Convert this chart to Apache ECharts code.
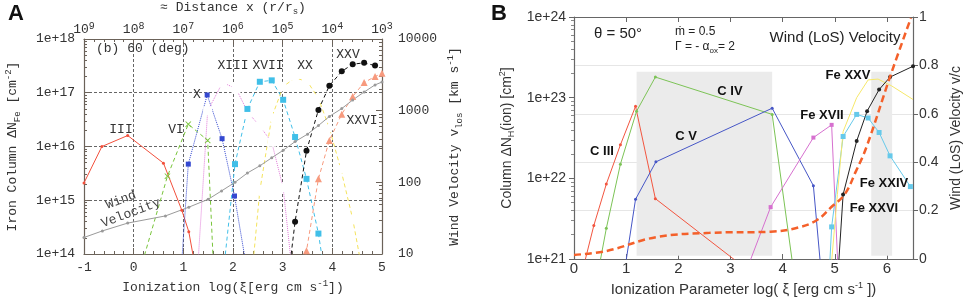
<!DOCTYPE html>
<html>
<head>
<meta charset="utf-8">
<script src="https://cdn.jsdelivr.net/npm/echarts@6/dist/echarts.min.js"></script>
<style>
  html, body { margin: 0; padding: 0; background: #fff; }
  #chart { width: 969px; height: 298px; }
</style>
</head>
<body>
<div id="chart"></div>
<script>
// ---- panel A : iron ion columns vs log(xi), 60 deg ----
const aXiIII = [-1, -0.64, -0.12, 0.6, 0.97, 1.11, 1.25]
const aColIII = [2.1e15, 1.0e16, 1.6e16, 4.9e15, 6.5e14, 2.6e14, 5e13]
const aXiVI = [0.1, 0.68, 1.10, 1.49, 1.62]
const aColVI = [4e13, 2.8e15, 2.6e16, 1.3e16, 3.2e13]
const aXiX = [0.95, 1.10, 1.48, 1.78, 2.03, 2.3]
const aColX = [4e13, 4.7e15, 9.1e16, 1.4e16, 1.2e15, 4e13]
const aXiXIII = [1.28, 1.49, 1.79, 2.06, 2.30, 2.54, 2.78, 3.01, 3.2]
const aColXIII = [4e13, 4.6e16, 1.55e17, 1.2e17, 4.3e16, 2.4e16, 1.2e16, 1.7e15, 4e13]
const aXiXVII = [1.8, 2.04, 2.29, 2.54, 2.78, 3.01, 3.25, 3.48, 3.72, 3.85]
const aColXVII = [4e13, 4.7e15, 5e16, 1.6e17, 1.7e17, 7.4e16, 1.5e16, 2.5e15, 2.4e14, 4e13]
const aXiXX = [2.38, 2.54, 2.78, 3.01, 3.25, 3.50, 3.72, 3.94, 4.17, 4.41, 4.6]
const aColXX = [4e13, 1.5e15, 3.5e16, 1.3e17, 1.9e17, 1.6e17, 7.9e16, 2.2e16, 3.8e15, 4.5e14, 5e13]
const aXiXXV = [3.12, 3.25, 3.48, 3.72, 3.94, 4.19, 4.41, 4.64, 4.86]
const aColXXV = [4e13, 4e14, 8.3e15, 4.8e16, 1.35e17, 2.5e17, 3.4e17, 3.6e17, 3.2e17]
const aXiXXVI = [3.42, 3.48, 3.72, 3.94, 4.19, 4.41, 4.64, 4.86, 5.0]
const aColXXVI = [4e13, 1.15e14, 2.5e15, 1.3e16, 4e16, 8.5e16, 1.55e17, 2e17, 2.3e17]
const aXiWind = [-1, -0.63, -0.12, 0.64, 1.11, 1.50, 1.77, 2.04, 2.29, 2.54, 2.78, 3.01, 3.25, 3.50, 3.72, 3.94, 4.19, 4.41, 4.64, 4.86, 5.0]
const aVelWind = [17, 21, 27, 34, 45, 58, 76, 100, 135, 170, 220, 280, 370, 470, 620, 830, 1070, 1410, 1820, 2290, 2510]
const aTopExp = [9, 8, 7, 6, 5, 4, 3] // distance labels 10^n at xi = -1..5

// ---- panel B : carbon + iron columns, theta = 50 ----
const bXiCIII = [0.18, 0.38, 0.62, 0.89, 1.18, 1.56, 3.2]
const bColCIII = [7.9e20, 2.6e21, 8.5e21, 2.6e22, 7.8e22, 5.6e21, 8.5e20]
const bXiCIV = [0.48, 0.62, 0.89, 1.20, 1.56, 3.80, 4.2]
const bColCIV = [7.9e20, 2.4e21, 1.5e22, 6.8e22, 1.8e23, 6.2e22, 7.9e20]
const bXiCV = [0.98, 1.18, 1.57, 3.80, 4.59, 4.73]
const bColCV = [7.9e20, 5.5e21, 1.6e22, 7.4e22, 8.1e21, 7.9e20]
const bXiFeXVII = [3.33, 3.77, 4.59, 4.94, 5.06]
const bColFeXVII = [7.9e20, 4.4e21, 3.2e22, 4.6e22, 7.9e20]
const bXiFeXXIV = [4.90, 4.94, 5.16, 5.42, 5.64, 5.85, 6.06, 6.45]
const bColFeXXIV = [7.9e20, 2.5e21, 3.3e22, 6.2e22, 5.6e22, 3.7e22, 1.9e22, 7.9e21]
const bXiFeXXV = [4.93, 5.05, 5.16, 5.42, 5.64, 5.83, 6.09, 6.5]
const bColFeXXV = [7.9e20, 6.3e21, 3.8e22, 1.0e23, 1.66e23, 1.7e23, 1.4e23, 9.5e22]
const bXiFeXXVI = [5.07, 5.16, 5.42, 5.62, 5.85, 6.06, 6.5]
const bColFeXXVI = [7.9e20, 6.3e21, 2.9e22, 6.8e22, 1.26e23, 1.8e23, 2.45e23]
const bXiWind = [0, 0.62, 1.57, 2.6, 3.77, 4.3, 4.66, 4.94, 5.19, 5.4, 5.61, 6.06, 6.46]
const bVelWind = [0.017, 0.033, 0.09, 0.108, 0.113, 0.13, 0.161, 0.216, 0.267, 0.36, 0.464, 0.753, 0.996]
const bShadeXi = [[1.2, 3.8], [5.7, 6.1]]
const bShadeCol = [1.1e21, 2.1e23]

const mono = '"Liberation Mono", "Courier New", monospace'
const sans = '"Liberation Sans", Arial, sans-serif'
const frameA = '#6b6259'
const frameB = '#666'

const pts = (xs, ys) => xs.map((x, i) => [x, ys[i]])

const richMono = {
  t: { fontFamily: mono, fontSize: 13, color: '#333', lineHeight: 18 },
  sub: { fontFamily: mono, fontSize: 9, color: '#333', lineHeight: 18, verticalAlign: 'bottom' },
  sup: { fontFamily: mono, fontSize: 9, color: '#333', lineHeight: 18, verticalAlign: 'top' }
}
const richSans = {
  t: { fontFamily: sans, fontSize: 14, color: '#333', lineHeight: 18 },
  sub: { fontFamily: sans, fontSize: 9, color: '#333', lineHeight: 18, verticalAlign: 'bottom' },
  sup: { fontFamily: sans, fontSize: 9, color: '#333', lineHeight: 18, verticalAlign: 'top' }
}

const cross = 'path://M0,1L1,0L5,4L9,0L10,1L6,5L10,9L9,10L5,6L1,10L0,9L4,5Z'

function lineA (name, xs, ys, color, type, symbol, size, yIdx) {
  const empty = symbol.startsWith('empty')
  return {
    name,
    type: 'line',
    xAxisIndex: 0,
    yAxisIndex: yIdx || 0,
    data: pts(xs, ys),
    symbol,
    symbolSize: size,
    showAllSymbol: true,
    lineStyle: { color, width: 1, type },
    itemStyle: empty ? { color: '#fff', borderColor: color, borderWidth: 1 } : { color, borderWidth: 0 },
    z: 3
  }
}

function lineB (name, xs, ys, color, symbol, size) {
  return {
    name,
    type: 'line',
    xAxisIndex: 2,
    yAxisIndex: 2,
    data: pts(xs, ys),
    symbol,
    symbolSize: size,
    showAllSymbol: true,
    lineStyle: { color, width: 1 },
    itemStyle: { color, borderWidth: 0 },
    z: 3
  }
}

const chart = echarts.init(document.getElementById('chart'), null, { renderer: 'canvas' })

const axisA = {
  axisLine: { show: true, onZero: false, lineStyle: { color: frameA, width: 1.2 } },
  axisTick: { show: true, inside: true, length: 6, lineStyle: { color: frameA } },
  minorTick: { show: true, length: 3, lineStyle: { color: frameA } }
}

const option = {
  animation: false,
  backgroundColor: '#fff',
  grid: [
    { left: 84, top: 39, width: 298, height: 215, outerBoundsMode: 'none', containLabel: false },
    { left: 574, top: 17, width: 339, height: 242, outerBoundsMode: 'none', containLabel: false }
  ],
  xAxis: [
    {
      gridIndex: 0, type: 'value', min: -1, max: 5, interval: 1, position: 'bottom',
      ...axisA,
      minorTick: { show: true, splitNumber: 5, length: 3, lineStyle: { color: frameA } },
      axisLabel: { fontFamily: mono, fontSize: 13, color: '#333', margin: 7 },
      splitLine: { show: true, lineStyle: { color: '#666', type: [3, 2], width: 1 } },
      name: '{t|Ionization log(ξ[erg cm s}{sup|-1}{t|])}',
      nameLocation: 'middle', nameGap: 23,
      nameTextStyle: { rich: richMono }
    },
    {
      gridIndex: 0, type: 'value', min: -1, max: 5, interval: 1, position: 'top',
      ...axisA,
      minorTick: { show: true, splitNumber: 5, length: 3, lineStyle: { color: frameA } },
      axisLabel: {
        margin: 3,
        formatter: v => `{t|10}{sup|${aTopExp[Math.round(v) + 1]}}`,
        rich: {
          t: { fontFamily: mono, fontSize: 13, color: '#333', lineHeight: 15, verticalAlign: 'bottom' },
          sup: { fontFamily: mono, fontSize: 10, color: '#333', lineHeight: 15, verticalAlign: 'top' }
        }
      },
      splitLine: { show: false },
      name: '{t|≈ Distance x (r/r}{sub|s}{t|)}',
      nameLocation: 'middle', nameGap: 22,
      nameTextStyle: { rich: richMono }
    },
    {
      gridIndex: 1, type: 'value', min: 0, max: 6.5, interval: 1, position: 'bottom',
      axisLine: { show: true, onZero: false, lineStyle: { color: frameB, width: 1.2 } },
      axisTick: { show: true, inside: true, length: 5, lineStyle: { color: frameB } },
      axisLabel: {
        fontFamily: sans, fontSize: 15, color: '#333', margin: 2,
        formatter: v => (Number.isInteger(v) ? String(v) : '')
      },
      splitLine: { show: false },
      name: '{t|Ionization Parameter log( ξ [erg cm s}{sup|-1}{t| ])}',
      nameLocation: 'middle', nameGap: 16,
      nameTextStyle: { rich: { ...richSans, t: { ...richSans.t, fontSize: 15 } } }
    },
    {
      gridIndex: 1, type: 'value', min: 0, max: 6.5, interval: 1, position: 'top',
      axisLine: { show: true, onZero: false, lineStyle: { color: frameB, width: 1.2 } },
      axisTick: { show: true, inside: true, length: 5, lineStyle: { color: frameB } },
      axisLabel: { show: false },
      splitLine: { show: false }
    }
  ],
  yAxis: [
    {
      gridIndex: 0, type: 'log', logBase: 10, min: 1e14, max: 1e18, position: 'left',
      ...axisA,
      minorTick: { show: true, splitNumber: 9, length: 3, lineStyle: { color: frameA } },
      axisLabel: {
        fontFamily: mono, fontSize: 13, color: '#333', margin: 9,
        formatter: v => '1e+' + Math.round(Math.log10(v))
      },
      splitLine: { show: true, lineStyle: { color: '#666', type: [3, 2], width: 1 } },
      name: '{t|Iron Column ΔN}{sub|Fe}{t| [cm}{sup|-2}{t|]}',
      nameLocation: 'middle', nameGap: 62, nameRotate: 90,
      nameTextStyle: { rich: richMono }
    },
    {
      gridIndex: 0, type: 'log', logBase: 10, min: 10, max: 10000, position: 'right',
      ...axisA,
      minorTick: { show: true, splitNumber: 9, length: 3, lineStyle: { color: frameA } },
      axisLabel: { fontFamily: mono, fontSize: 13, color: '#333', margin: 16, formatter: v => String(Math.round(v)) },
      splitLine: { show: false },
      name: '{t|Wind Velocity v}{sub|los}{t| [km s}{sup|-1}{t|]}',
      nameLocation: 'middle', nameGap: 64, nameRotate: 90,
      nameTextStyle: { rich: richMono }
    },
    {
      gridIndex: 1, type: 'log', logBase: 10, min: 1e21, max: 1e24, position: 'left',
      axisLine: { show: true, onZero: false, lineStyle: { color: frameB, width: 1.2 } },
      axisTick: { show: true, inside: false, length: 5, lineStyle: { color: frameB } },
      minorTick: { show: true, splitNumber: 9, length: 3, lineStyle: { color: '#888' } },
      axisLabel: {
        fontFamily: sans, fontSize: 14, color: '#333', margin: 8,
        formatter: v => '1e+' + Math.round(Math.log10(v))
      },
      splitLine: { show: false },
      name: '{t|Column ΔN}{sub|H}{t|(ion) [cm}{sup|2}{t|]}',
      nameLocation: 'middle', nameGap: 58, nameRotate: 90,
      nameTextStyle: { rich: richSans }
    },
    {
      gridIndex: 1, type: 'value', min: 0, max: 1, interval: 0.2, position: 'right',
      axisLine: { show: true, onZero: false, lineStyle: { color: frameB, width: 1.2 } },
      axisTick: { show: true, inside: false, length: 5, lineStyle: { color: frameB } },
      axisLabel: {
        fontFamily: sans, fontSize: 14, color: '#333', margin: 6,
        formatter: v => (v === 0 || v === 1 ? String(v) : v.toFixed(1))
      },
      splitLine: { show: true, lineStyle: { color: '#e6e6e6', width: 1 } },
      name: 'Wind (LoS) Velocity v/c',
      nameLocation: 'middle', nameGap: 36, nameRotate: 90,
      nameTextStyle: { fontFamily: sans, fontSize: 14, color: '#333' }
    }
  ],
  series: [
    lineA('III', aXiIII, aColIII, '#f2503c', 'solid', 'circle', 3),
    lineA('VI', aXiVI, aColVI, '#78c43a', [4, 3], cross, 6),
    lineA('X', aXiX, aColX, '#3448d0', 'dotted', 'rect', 5),
    lineA('XIII', aXiXIII, aColXIII, '#e07ad8', 'dotted', 'emptyRect', 7),
    lineA('XVII', aXiXVII, aColXVII, '#40bfe8', [4, 3], 'rect', 6),
    lineA('XX', aXiXX, aColXX, '#f4e35c', [4, 3], 'emptyDiamond', 8),
    lineA('XXV', aXiXXV, aColXXV, '#111', [4, 3], 'circle', 6),
    lineA('XXVI', aXiXXVI, aColXXVI, '#f79a7e', [4, 3], 'triangle', 7),
    lineA('Wind', aXiWind, aVelWind, '#9a9a9a', 'solid', 'circle', 3, 1),

    {
      name: 'shade',
      type: 'line',
      xAxisIndex: 2,
      yAxisIndex: 2,
      data: [],
      silent: true,
      markArea: {
        silent: true,
        itemStyle: { color: '#ebebeb' },
        data: bShadeXi.map(r => [{ xAxis: r[0], yAxis: bShadeCol[0] }, { xAxis: r[1], yAxis: bShadeCol[1] }])
      },
      z: 1
    },
    lineB('C III', bXiCIII, bColCIII, '#f2553f', 'circle', 3),
    lineB('C IV', bXiCIV, bColCIV, '#7cc356', 'circle', 3),
    lineB('C V', bXiCV, bColCV, '#4656c6', 'circle', 3),
    lineB('Fe XVII', bXiFeXVII, bColFeXVII, '#d670cf', 'rect', 4),
    lineB('Fe XXIV', bXiFeXXIV, bColFeXXIV, '#66c9ea', 'rect', 5),
    lineB('Fe XXV', bXiFeXXV, bColFeXXV, '#f6e86a', 'none', 0),
    lineB('Fe XXVI', bXiFeXXVI, bColFeXXVI, '#222', 'circle', 4),
    {
      name: 'Wind B',
      type: 'line',
      xAxisIndex: 2,
      yAxisIndex: 3,
      data: pts(bXiWind, bVelWind),
      smooth: 0.4,
      symbol: 'none',
      lineStyle: { color: '#f4602a', width: 2.5, type: [7, 4] },
      z: 4
    }
  ],
  graphic: [
    { type: 'text', x: 16, y: 14, style: { text: 'A', font: 'bold 22px ' + sans, fill: '#111', align: 'center', verticalAlign: 'middle', textAlign: 'center', textVerticalAlign: 'middle' } },
    { type: 'text', x: 499, y: 14, style: { text: 'B', font: 'bold 22px ' + sans, fill: '#111', align: 'center', verticalAlign: 'middle', textAlign: 'center', textVerticalAlign: 'middle' } },
    ...[
      ['(b) 60 (deg)', 96, 49, 'left'],
      ['III', 121, 130, 'center'],
      ['VI', 176, 130, 'center'],
      ['X', 197, 95, 'center'],
      ['XIII', 233, 66, 'center'],
      ['XVII', 268, 66, 'center'],
      ['XX', 305, 66, 'center'],
      ['XXV', 348, 55, 'center'],
      ['XXVI', 362, 121, 'center']
    ].map(([text, x, y, align]) => ({
      type: 'text', x, y, z: 10,
      style: { text, font: '13px ' + mono, fill: '#333', align, verticalAlign: 'middle', textAlign: align, textVerticalAlign: 'middle' }
    })),
    { type: 'text', x: 121, y: 200, rotation: 0.36, z: 10, style: { text: 'Wind', font: '13px ' + mono, fill: '#444', align: 'center', verticalAlign: 'middle', textAlign: 'center', textVerticalAlign: 'middle' } },
    { type: 'text', x: 131, y: 213, rotation: 0.36, z: 10, style: { text: 'Velocity', font: '13px ' + mono, fill: '#444', align: 'center', verticalAlign: 'middle', textAlign: 'center', textVerticalAlign: 'middle' } },
    ...[
      ['C III', 602, 151],
      ['C IV', 730, 91],
      ['C V', 686, 136],
      ['Fe XXV', 848, 75],
      ['Fe XVII', 822, 115],
      ['Fe XXIV', 884, 183],
      ['Fe XXVI', 874, 208]
    ].map(([text, x, y]) => ({
      type: 'text', x, y, z: 10,
      style: { text, font: 'bold 13px ' + sans, fill: '#111', align: 'center', verticalAlign: 'middle', textAlign: 'center', textVerticalAlign: 'middle' }
    })),
    { type: 'text', x: 835, y: 38, z: 10, style: { text: 'Wind (LoS) Velocity', font: '15px ' + sans, fill: '#222', align: 'center', verticalAlign: 'middle', textAlign: 'center', textVerticalAlign: 'middle' } },
    { type: 'text', x: 594, y: 34, z: 10, style: { text: 'θ = 50°', font: '15px ' + sans, fill: '#222', align: 'left', verticalAlign: 'middle', textAlign: 'left', textVerticalAlign: 'middle' } },
    { type: 'text', x: 675, y: 32, z: 10, style: { text: 'ṁ = 0.5', font: '12px ' + sans, fill: '#222', align: 'left', verticalAlign: 'middle', textAlign: 'left', textVerticalAlign: 'middle' } },
    {
      type: 'text', x: 675, y: 47, z: 10,
      style: {
        text: '{t|Γ = - α}{sub|ox}{t|= 2}',
        align: 'left', verticalAlign: 'middle', textAlign: 'left', textVerticalAlign: 'middle',
        rich: {
          t: { fontFamily: sans, fontSize: 12, fill: '#222', color: '#222', lineHeight: 16 },
          sub: { fontFamily: sans, fontSize: 8, fill: '#222', color: '#222', lineHeight: 16, verticalAlign: 'bottom' }
        }
      }
    }
  ]
}

chart.setOption(option)
</script>
</body>
</html>
